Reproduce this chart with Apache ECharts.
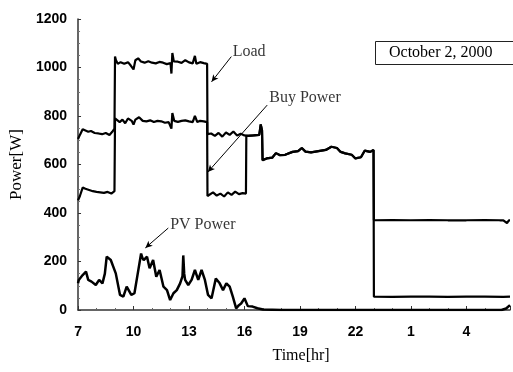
<!DOCTYPE html>
<html>
<head>
<meta charset="utf-8">
<script src="https://cdn.jsdelivr.net/npm/echarts@6/dist/echarts.min.js"></script>
<style>
  html, body { margin: 0; padding: 0; background: #fff; }
  #chart { width: 513px; height: 372px; }
</style>
</head>
<body>
<div id="chart"></div>
<script>
// hours counted from 7:00 (values above 24 are the next morning)
const loadT = [7.0, 7.1, 7.25, 7.4, 7.55, 7.7, 7.9, 8.1, 8.3, 8.5, 8.7, 8.85, 8.97,
  9.0, 9.05, 9.15, 9.3, 9.5, 9.7, 9.85, 10.0, 10.1, 10.25, 10.4, 10.6, 10.8, 11.0, 11.2, 11.4, 11.6, 11.8, 12.0, 12.05, 12.1, 12.18, 12.4, 12.6, 12.8, 13.0, 13.2, 13.32, 13.4, 13.6, 13.8, 13.98,
  14.0, 14.2, 14.4, 14.6, 14.8, 15.0, 15.2, 15.4, 15.6, 15.8, 16.0, 16.2, 16.5, 16.8, 16.88, 16.95,
  16.98, 17.2, 17.5, 17.7, 17.9, 18.2, 18.6, 18.9, 19.1, 19.3, 19.6, 20.0, 20.4, 20.7, 21.0, 21.2, 21.45, 21.8, 22.0, 22.3, 22.5, 22.8, 22.98,
  23.0, 24, 25, 26, 27, 28, 29, 29.8, 30.0, 30.2, 30.3, 30.36];
const loadW = [705, 722, 745, 740, 735, 738, 730, 728, 725, 730, 722, 735, 748,
  1045, 1030, 1015, 1022, 1015, 1022, 1008, 992, 1030, 1038, 1025, 1020, 1026, 1020, 1017, 1023, 1020, 1014, 1018, 975, 1060, 1025, 1024, 1019, 1030, 1021, 1017, 1048, 1015, 1022, 1018, 1015,
  725, 728, 718, 730, 715, 732, 722, 736, 720, 727, 720, 718, 720, 722, 765, 740,
  618, 625, 628, 647, 639, 640, 652, 655, 668, 653, 650, 655, 660, 673, 668, 652, 646, 640, 625, 630, 657, 652, 660,
  370, 371, 370, 371, 370, 370, 371, 370, 370, 358, 370, 370];

const buyT = [7.0, 7.1, 7.25, 7.4, 7.6, 7.8, 8.0, 8.2, 8.4, 8.6, 8.8, 8.97,
  9.0, 9.1, 9.25, 9.4, 9.55, 9.7, 9.9, 10.0, 10.1, 10.3, 10.5, 10.7, 10.9, 11.1, 11.3, 11.5, 11.7, 11.9, 12.05, 12.1, 12.2, 12.4, 12.6, 12.8, 13.0, 13.2, 13.32, 13.45, 13.6, 13.8, 13.98,
  14.0, 14.1, 14.3, 14.5, 14.7, 14.9, 15.1, 15.3, 15.5, 15.7, 15.9, 16.08,
  16.1, 16.2, 16.5, 16.8, 16.88, 16.95,
  16.98, 17.2, 17.5, 17.7, 17.9, 18.2, 18.6, 18.9, 19.1, 19.3, 19.6, 20.0, 20.4, 20.7, 21.0, 21.2, 21.45, 21.8, 22.0, 22.3, 22.5, 22.8, 22.98,
  23.0, 24, 25, 26, 27, 28, 29, 30, 30.36];
const buyW = [452, 470, 505, 500, 495, 490, 487, 485, 483, 487, 480, 490,
  790, 795, 775, 785, 770, 790, 780, 765, 785, 795, 780, 778, 782, 775, 780, 778, 772, 775, 748, 812, 780, 776, 780, 782, 778, 775, 800, 775, 780, 778, 775,
  470, 478, 485, 472, 480, 468, 485, 475, 488, 478, 482, 480,
  718, 718, 720, 722, 765, 740,
  618, 625, 628, 647, 639, 640, 652, 655, 668, 653, 650, 655, 660, 673, 668, 652, 646, 640, 625, 630, 657, 652, 660,
  55, 54, 55, 55, 54, 55, 55, 54, 55];

const pvT = [7.0, 7.04, 7.25, 7.43, 7.55, 7.73, 7.96, 8.14, 8.32, 8.45,
  8.55, 8.77, 9.04, 9.27, 9.45, 9.63, 9.88, 10.05, 10.23, 10.41,
  10.48, 10.55, 10.73, 10.87, 11.06, 11.23, 11.41, 11.62, 11.81, 11.98,
  12.16, 12.34, 12.52, 12.65, 12.69, 12.74, 12.79, 12.96, 13.14, 13.32,
  13.5, 13.68, 13.86, 14.03, 14.22, 14.45, 14.66, 14.84, 15.02, 15.2,
  15.37, 15.55, 15.7, 15.82, 16.0, 16.18, 16.44, 16.7, 17.0, 18,
  20, 22, 24, 26, 28, 29.9, 30.15, 30.36];
const pvW = [110, 124, 144, 158, 124, 117, 103, 124, 110, 150,
  220, 206, 151, 62, 55, 96, 62, 69, 151, 233,
  215, 206, 220, 172, 206, 137, 165, 96, 82, 41,
  69, 82, 110, 140, 225, 150, 124, 103, 124, 165,
  124, 165, 124, 62, 48, 130, 110, 82, 110, 96,
  55, 7, 20, 27, 48, 16, 14, 7, 2, 0,
  0, 0, 0, 0, 0, 0, 6, 20];

const xTicks = [7, 10, 13, 16, 19, 22, 1, 4];
const yTicks = [0, 200, 400, 600, 800, 1000, 1200];

// callouts: [label x, label y, text], arrows: [from x, from y, to x, to y]
const notes = [[15.36, 1066, 'Load'], [17.34, 874, 'Buy Power'], [11.98, 350, 'PV Power']];
const arrows = [[15.29, 1045, 14.22, 941], [17.23, 845, 14.02, 569], [11.88, 338, 10.64, 256]];

const pairs = (t, w) => t.map((v, i) => [v, w[i]]);

let chart = echarts.init(document.getElementById('chart'));
let lineBase = {
  type: 'line',
  showSymbol: false,
  symbol: 'none',
  animation: false,
  lineStyle: { color: '#000', width: 2.2 },
};

let option = {
  animation: false,
  title: {
    text: 'October 2, 2000',
    left: 375,
    top: 41,
    padding: [4, 40, 4, 14],
    borderColor: '#222',
    borderWidth: 1,
    textStyle: { fontFamily: 'Liberation Serif', fontSize: 16, fontWeight: 'normal', color: '#000' },
  },
  grid: { left: 77, top: 19, right: 0, bottom: 62, containLabel: false },
  xAxis: {
    type: 'value',
    min: 7,
    max: 30.36,
    interval: 3,
    name: 'Time[hr]',
    nameLocation: 'middle',
    nameGap: 38,
    nameTextStyle: { fontFamily: 'Liberation Serif', fontSize: 16, color: '#000', padding: [0, 0, 0, 14] },
    axisLine: { show: true, lineStyle: { color: '#333', width: 1.5 } },
    axisTick: { show: true, inside: true, length: 4, lineStyle: { color: '#333' } },
    minorTick: { show: true, splitNumber: 3, length: 2, lineStyle: { color: '#666' } },
    splitLine: { show: false },
    axisLabel: {
      margin: 15,
      fontFamily: 'Liberation Sans',
      fontWeight: 'bold',
      fontSize: 14,
      color: '#000',
      formatter: (v) => {
        let i = (v - 7) / 3;
        return Number.isInteger(i) && xTicks[i] !== undefined ? String(xTicks[i]) : '';
      },
    },
  },
  yAxis: {
    type: 'value',
    min: 0,
    max: 1200,
    interval: 200,
    name: 'Power[W]',
    nameLocation: 'middle',
    nameGap: 50,
    nameTextStyle: { fontFamily: 'Liberation Serif', fontSize: 17, color: '#000' },
    axisLine: { show: true, lineStyle: { color: '#333', width: 1.5 } },
    axisTick: { show: true, inside: true, length: 3, lineStyle: { color: '#333' } },
    minorTick: { show: true, splitNumber: 4, length: 2, lineStyle: { color: '#777' } },
    splitLine: { show: false },
    axisLabel: {
      margin: 11,
      fontFamily: 'Liberation Sans',
      fontWeight: 'bold',
      fontSize: 14,
      color: '#000',
      formatter: (v) => (yTicks.indexOf(v) >= 0 ? String(v) : ''),
    },
  },
  series: [
    Object.assign({}, lineBase, { name: 'Load', data: pairs(loadT, loadW) }),
    Object.assign({}, lineBase, { name: 'Buy Power', data: pairs(buyT, buyW) }),
    Object.assign({}, lineBase, {
      name: 'PV Power',
      data: pairs(pvT, pvW),
      lineStyle: { color: '#000', width: 2.5 },
      markLine: {
        silent: true,
        symbol: ['none', 'arrow'],
        symbolSize: [5, 7],
        label: { show: false },
        lineStyle: { color: '#000', width: 1, type: 'solid' },
        data: arrows.map((a) => [{ coord: [a[0], a[1]] }, { coord: [a[2], a[3]] }]),
      },
    }),
    {
      type: 'scatter',
      name: 'notes',
      symbolSize: 0,
      silent: true,
      data: notes,
      label: {
        show: true,
        position: 'right',
        distance: 0,
        formatter: (p) => p.data[2],
        fontFamily: 'Liberation Serif',
        fontSize: 16,
        color: '#000',
      },
    },
  ],
};
chart.setOption(option);
window.addEventListener('resize', () => {
  chart.resize();
});
</script>
</body>
</html>
